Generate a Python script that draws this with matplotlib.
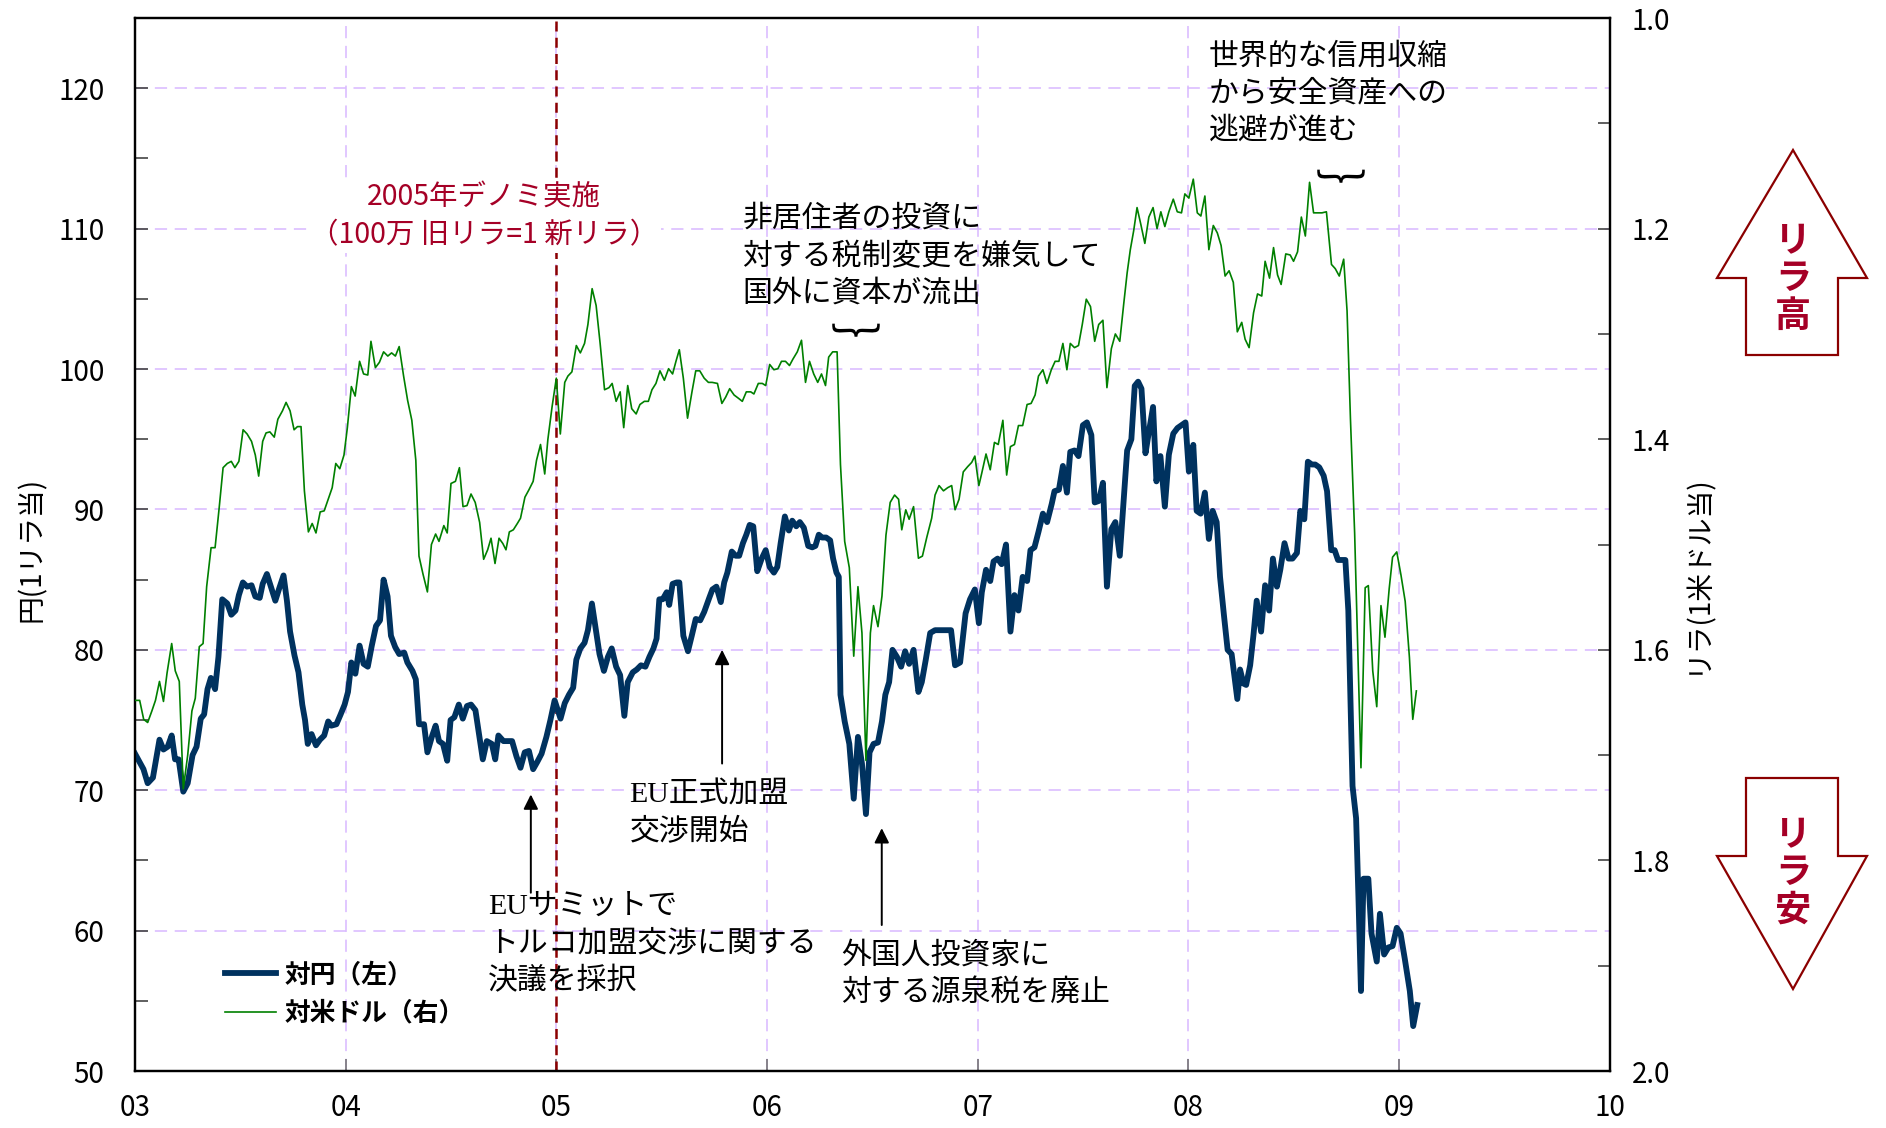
import matplotlib
matplotlib.use("Agg")
import matplotlib.pyplot as plt
from matplotlib.lines import Line2D
from matplotlib.patches import Polygon
from matplotlib.ticker import MultipleLocator

plt.rcParams['font.family'] = ['Noto Sans CJK JP', 'DejaVu Sans']

# 対円（左軸）: 時点（年）と値（円／1リラ）
jpy_t = [2003.000, 2003.040, 2003.060, 2003.085, 2003.116, 2003.135, 2003.155, 2003.174, 2003.190, 2003.207,
         2003.229, 2003.250, 2003.273, 2003.292, 2003.312, 2003.328, 2003.344, 2003.360, 2003.380, 2003.396,
         2003.414, 2003.438, 2003.457, 2003.477, 2003.493, 2003.512, 2003.532, 2003.553, 2003.571, 2003.592,
         2003.606, 2003.626, 2003.647, 2003.666, 2003.685, 2003.705, 2003.721, 2003.736, 2003.757, 2003.776,
         2003.794, 2003.807, 2003.820, 2003.838, 2003.859, 2003.878, 2003.898, 2003.917, 2003.932, 2003.956,
         2003.976, 2003.995, 2004.011, 2004.027, 2004.046, 2004.066, 2004.085, 2004.105, 2004.124, 2004.144,
         2004.163, 2004.180, 2004.199, 2004.215, 2004.235, 2004.254, 2004.278, 2004.293, 2004.317, 2004.333,
         2004.348, 2004.372, 2004.388, 2004.411, 2004.427, 2004.443, 2004.462, 2004.482, 2004.498, 2004.516,
         2004.537, 2004.556, 2004.576, 2004.595, 2004.616, 2004.631, 2004.651, 2004.670, 2004.694, 2004.710,
         2004.725, 2004.749, 2004.768, 2004.790, 2004.811, 2004.830, 2004.850, 2004.870, 2004.890, 2004.909,
         2004.930, 2004.953, 2004.972, 2004.992, 2005.020, 2005.040, 2005.060, 2005.080, 2005.095, 2005.114,
         2005.134, 2005.150, 2005.169, 2005.186, 2005.205, 2005.226, 2005.245, 2005.263, 2005.284, 2005.303,
         2005.323, 2005.339, 2005.363, 2005.382, 2005.402, 2005.423, 2005.442, 2005.461, 2005.476, 2005.489,
         2005.505, 2005.524, 2005.536, 2005.552, 2005.571, 2005.584, 2005.603, 2005.625, 2005.643, 2005.662,
         2005.683, 2005.702, 2005.726, 2005.741, 2005.760, 2005.781, 2005.797, 2005.812, 2005.833, 2005.852,
         2005.868, 2005.886, 2005.902, 2005.918, 2005.935, 2005.954, 2005.975, 2005.994, 2006.013, 2006.033,
         2006.049, 2006.065, 2006.085, 2006.104, 2006.120, 2006.139, 2006.156, 2006.175, 2006.196, 2006.215,
         2006.230, 2006.246, 2006.262, 2006.281, 2006.300, 2006.314, 2006.330, 2006.341, 2006.349, 2006.369,
         2006.391, 2006.412, 2006.432, 2006.451, 2006.470, 2006.487, 2006.506, 2006.527, 2006.546, 2006.562,
         2006.580, 2006.596, 2006.617, 2006.637, 2006.656, 2006.675, 2006.696, 2006.719, 2006.735, 2006.754,
         2006.775, 2006.798, 2006.822, 2006.846, 2006.874, 2006.893, 2006.917, 2006.943, 2006.964, 2006.987,
         2007.006, 2007.020, 2007.040, 2007.060, 2007.076, 2007.095, 2007.114, 2007.135, 2007.156, 2007.175,
         2007.194, 2007.214, 2007.235, 2007.251, 2007.270, 2007.289, 2007.310, 2007.330, 2007.352, 2007.365,
         2007.386, 2007.405, 2007.424, 2007.440, 2007.460, 2007.479, 2007.500, 2007.519, 2007.540, 2007.556,
         2007.575, 2007.595, 2007.614, 2007.635, 2007.654, 2007.675, 2007.690, 2007.710, 2007.730, 2007.746,
         2007.762, 2007.778, 2007.797, 2007.813, 2007.833, 2007.849, 2007.868, 2007.889, 2007.908, 2007.929,
         2007.949, 2007.968, 2007.987, 2008.003, 2008.024, 2008.040, 2008.059, 2008.079, 2008.098, 2008.116,
         2008.135, 2008.151, 2008.170, 2008.187, 2008.206, 2008.222, 2008.233, 2008.246, 2008.262, 2008.275,
         2008.294, 2008.310, 2008.325, 2008.346, 2008.365, 2008.384, 2008.402, 2008.421, 2008.437, 2008.457,
         2008.476, 2008.495, 2008.516, 2008.532, 2008.551, 2008.568, 2008.587, 2008.603, 2008.622, 2008.643,
         2008.659, 2008.679, 2008.695, 2008.711, 2008.730, 2008.746, 2008.760, 2008.770, 2008.780, 2008.797,
         2008.808, 2008.820, 2008.832, 2008.855, 2008.870, 2008.895, 2008.910, 2008.930, 2008.950, 2008.970,
         2008.990, 2009.008, 2009.028, 2009.052, 2009.068, 2009.087]
jpy_v = [72.6, 71.5, 70.5, 70.9, 73.6, 72.9, 73.1, 73.9, 72.2, 72.2,
         69.9, 70.5, 72.5, 73.1, 75.1, 75.4, 77.2, 78.0, 77.2, 79.5,
         83.6, 83.3, 82.5, 82.8, 83.9, 84.8, 84.5, 84.6, 83.8, 83.7,
         84.7, 85.4, 84.4, 83.5, 84.4, 85.3, 83.5, 81.3, 79.6, 78.4,
         76.1, 75.0, 73.3, 74.0, 73.2, 73.6, 73.9, 74.9, 74.6, 74.7,
         75.4, 76.1, 77.0, 79.1, 78.3, 80.3, 79.0, 78.8, 80.3, 81.7,
         82.1, 85.0, 83.8, 81.0, 80.2, 79.7, 79.8, 79.1, 78.5, 77.9,
         74.7, 74.7, 72.7, 73.9, 74.6, 73.5, 73.3, 72.1, 75.0, 75.2,
         76.1, 75.1, 76.0, 76.1, 75.7, 74.2, 72.2, 73.5, 73.3, 72.2,
         73.9, 73.5, 73.5, 73.5, 72.4, 71.6, 72.7, 72.8, 71.5, 72.0,
         72.6, 73.8, 75.0, 76.4, 75.1, 76.2, 76.8, 77.3, 79.3, 80.1,
         80.5, 81.4, 83.3, 81.6, 79.7, 78.5, 79.5, 80.1, 78.8, 78.2,
         75.3, 77.7, 78.4, 78.6, 78.9, 78.8, 79.5, 80.1, 80.8, 83.6,
         83.6, 84.1, 83.2, 84.7, 84.8, 84.8, 81.0, 79.9, 81.0, 82.2,
         82.1, 82.7, 83.7, 84.3, 84.5, 83.4, 84.8, 85.5, 87.0, 86.7,
         86.7, 87.6, 88.2, 88.9, 88.8, 85.6, 86.5, 87.1, 85.9, 85.5,
         85.9, 87.6, 89.5, 88.5, 89.2, 88.8, 89.1, 88.7, 87.4, 87.3,
         87.4, 88.2, 88.0, 88.0, 87.8, 86.5, 85.5, 85.2, 76.8, 74.9,
         73.3, 69.4, 73.8, 71.9, 68.3, 72.7, 73.3, 73.4, 74.9, 76.8,
         77.7, 80.0, 79.5, 78.8, 79.9, 79.0, 80.0, 77.0, 77.7, 79.3,
         81.2, 81.4, 81.4, 81.4, 81.4, 78.9, 79.1, 82.6, 83.6, 84.3,
         81.9, 84.1, 85.7, 84.9, 86.3, 86.5, 86.1, 87.5, 81.3, 83.9,
         82.8, 85.2, 84.9, 87.1, 87.3, 88.4, 89.7, 89.1, 90.4, 91.3,
         91.4, 93.1, 91.2, 94.1, 94.2, 93.8, 96.0, 96.2, 95.3, 90.5,
         90.6, 91.9, 84.5, 88.6, 89.1, 86.7, 89.9, 94.2, 95.0, 98.8,
         99.1, 98.6, 94.0, 95.5, 97.3, 92.0, 93.8, 90.2, 93.9, 95.4,
         95.8, 96.0, 96.2, 92.7, 94.6, 89.9, 89.7, 91.2, 87.9, 89.9,
         89.1, 85.2, 82.4, 80.0, 79.7, 77.8, 76.5, 78.6, 77.6, 77.5,
         78.9, 81.1, 83.5, 81.3, 84.6, 82.8, 86.5, 84.5, 85.7, 87.6,
         86.5, 86.5, 86.9, 89.9, 89.3, 93.4, 93.2, 93.2, 93.0, 92.4,
         91.3, 87.1, 87.1, 86.4, 86.4, 86.4, 82.8, 76.4, 70.3, 68.0,
         62.4, 55.7, 63.7, 63.7, 59.8, 57.8, 61.2, 58.3, 58.8, 58.9,
         60.2, 59.8, 58.0, 55.7, 53.2, 54.7]

# 対米ドル（右軸）: 時点（年）と値（リラ／1米ドル）
usd_t = [2003.000, 2003.022, 2003.041, 2003.060, 2003.080, 2003.097, 2003.116, 2003.135, 2003.152, 2003.174,
         2003.191, 2003.210, 2003.229, 2003.250, 2003.270, 2003.286, 2003.305, 2003.323, 2003.340, 2003.361,
         2003.380, 2003.399, 2003.418, 2003.438, 2003.457, 2003.474, 2003.493, 2003.513, 2003.532, 2003.553,
         2003.571, 2003.587, 2003.606, 2003.622, 2003.640, 2003.661, 2003.678, 2003.700, 2003.717, 2003.736,
         2003.755, 2003.771, 2003.788, 2003.804, 2003.823, 2003.841, 2003.859, 2003.879, 2003.898, 2003.917,
         2003.936, 2003.953, 2003.972, 2003.992, 2004.008, 2004.027, 2004.045, 2004.066, 2004.085, 2004.105,
         2004.120, 2004.141, 2004.160, 2004.180, 2004.200, 2004.218, 2004.236, 2004.254, 2004.275, 2004.294,
         2004.314, 2004.333, 2004.348, 2004.367, 2004.388, 2004.407, 2004.427, 2004.443, 2004.466, 2004.482,
         2004.500, 2004.521, 2004.540, 2004.557, 2004.576, 2004.595, 2004.615, 2004.636, 2004.655, 2004.674,
         2004.690, 2004.709, 2004.728, 2004.746, 2004.761, 2004.777, 2004.796, 2004.815, 2004.830, 2004.851,
         2004.870, 2004.890, 2004.906, 2004.925, 2004.945, 2004.960, 2004.980, 2005.000, 2005.019, 2005.040,
         2005.055, 2005.074, 2005.095, 2005.114, 2005.134, 2005.150, 2005.170, 2005.189, 2005.208, 2005.229,
         2005.250, 2005.265, 2005.284, 2005.303, 2005.320, 2005.339, 2005.358, 2005.379, 2005.397, 2005.418,
         2005.437, 2005.454, 2005.473, 2005.492, 2005.513, 2005.533, 2005.552, 2005.568, 2005.584, 2005.603,
         2005.623, 2005.644, 2005.662, 2005.681, 2005.702, 2005.722, 2005.740, 2005.765, 2005.786, 2005.804,
         2005.823, 2005.844, 2005.864, 2005.883, 2005.902, 2005.923, 2005.938, 2005.959, 2005.978, 2005.994,
         2006.013, 2006.033, 2006.052, 2006.069, 2006.088, 2006.107, 2006.123, 2006.144, 2006.164, 2006.183,
         2006.202, 2006.222, 2006.241, 2006.259, 2006.278, 2006.293, 2006.312, 2006.333, 2006.349, 2006.369,
         2006.391, 2006.412, 2006.432, 2006.451, 2006.470, 2006.491, 2006.506, 2006.527, 2006.546, 2006.565,
         2006.585, 2006.606, 2006.625, 2006.640, 2006.659, 2006.675, 2006.696, 2006.719, 2006.738, 2006.759,
         2006.782, 2006.798, 2006.817, 2006.838, 2006.858, 2006.877, 2006.893, 2006.912, 2006.932, 2006.953,
         2006.972, 2006.987, 2007.006, 2007.020, 2007.040, 2007.060, 2007.080, 2007.098, 2007.120, 2007.138,
         2007.156, 2007.175, 2007.194, 2007.214, 2007.235, 2007.254, 2007.273, 2007.289, 2007.310, 2007.329,
         2007.350, 2007.368, 2007.386, 2007.405, 2007.424, 2007.440, 2007.460, 2007.479, 2007.497, 2007.516,
         2007.536, 2007.556, 2007.575, 2007.595, 2007.614, 2007.635, 2007.654, 2007.675, 2007.694, 2007.710,
         2007.725, 2007.741, 2007.757, 2007.775, 2007.794, 2007.813, 2007.833, 2007.852, 2007.870, 2007.889,
         2007.908, 2007.929, 2007.948, 2007.968, 2007.984, 2008.003, 2008.024, 2008.043, 2008.060, 2008.079,
         2008.098, 2008.119, 2008.138, 2008.156, 2008.175, 2008.194, 2008.214, 2008.233, 2008.254, 2008.270,
         2008.289, 2008.310, 2008.329, 2008.349, 2008.365, 2008.386, 2008.405, 2008.424, 2008.441, 2008.463,
         2008.484, 2008.500, 2008.519, 2008.537, 2008.556, 2008.576, 2008.595, 2008.616, 2008.635, 2008.656,
         2008.680, 2008.698, 2008.717, 2008.738, 2008.754, 2008.770, 2008.790, 2008.820, 2008.840, 2008.855,
         2008.876, 2008.895, 2008.915, 2008.934, 2008.954, 2008.970, 2008.990, 2009.010, 2009.030, 2009.050,
         2009.066, 2009.083]
usd_v = [1.648, 1.648, 1.666, 1.669, 1.658, 1.648, 1.630, 1.649, 1.622, 1.594,
         1.620, 1.630, 1.732, 1.700, 1.658, 1.646, 1.597, 1.594, 1.540, 1.503,
         1.503, 1.466, 1.427, 1.423, 1.421, 1.427, 1.421, 1.391, 1.395, 1.402,
         1.415, 1.435, 1.402, 1.394, 1.393, 1.398, 1.381, 1.373, 1.365, 1.373,
         1.391, 1.388, 1.388, 1.449, 1.488, 1.480, 1.489, 1.469, 1.468, 1.457,
         1.446, 1.423, 1.428, 1.415, 1.389, 1.350, 1.359, 1.326, 1.338, 1.339,
         1.307, 1.332, 1.327, 1.317, 1.321, 1.318, 1.321, 1.312, 1.340, 1.363,
         1.382, 1.420, 1.511, 1.528, 1.545, 1.500, 1.490, 1.497, 1.482, 1.489,
         1.442, 1.440, 1.427, 1.464, 1.463, 1.452, 1.460, 1.479, 1.514, 1.505,
         1.494, 1.518, 1.494, 1.499, 1.505, 1.488, 1.486, 1.480, 1.475, 1.455,
         1.448, 1.440, 1.420, 1.405, 1.433, 1.400, 1.369, 1.342, 1.395, 1.346,
         1.340, 1.336, 1.311, 1.318, 1.309, 1.291, 1.257, 1.273, 1.309, 1.353,
         1.351, 1.347, 1.364, 1.355, 1.389, 1.349, 1.371, 1.376, 1.367, 1.364,
         1.364, 1.353, 1.347, 1.335, 1.344, 1.333, 1.338, 1.326, 1.315, 1.342,
         1.380, 1.355, 1.335, 1.335, 1.342, 1.346, 1.346, 1.347, 1.366, 1.360,
         1.352, 1.358, 1.361, 1.364, 1.355, 1.355, 1.357, 1.347, 1.347, 1.349,
         1.329, 1.334, 1.333, 1.326, 1.326, 1.330, 1.324, 1.317, 1.306, 1.346,
         1.326, 1.338, 1.346, 1.338, 1.349, 1.322, 1.317, 1.317, 1.424, 1.497,
         1.522, 1.606, 1.540, 1.584, 1.705, 1.584, 1.558, 1.578, 1.549, 1.491,
         1.460, 1.453, 1.457, 1.486, 1.467, 1.476, 1.464, 1.513, 1.511, 1.493,
         1.475, 1.453, 1.444, 1.449, 1.446, 1.444, 1.467, 1.457, 1.431, 1.426,
         1.422, 1.416, 1.444, 1.432, 1.414, 1.429, 1.403, 1.405, 1.382, 1.434,
         1.407, 1.405, 1.387, 1.387, 1.367, 1.366, 1.358, 1.340, 1.334, 1.347,
         1.334, 1.326, 1.326, 1.309, 1.334, 1.309, 1.313, 1.311, 1.291, 1.267,
         1.274, 1.307, 1.291, 1.287, 1.351, 1.314, 1.300, 1.307, 1.271, 1.242,
         1.220, 1.202, 1.180, 1.196, 1.214, 1.189, 1.180, 1.200, 1.184, 1.198,
         1.184, 1.172, 1.184, 1.185, 1.167, 1.171, 1.153, 1.185, 1.188, 1.169,
         1.220, 1.197, 1.204, 1.216, 1.245, 1.240, 1.251, 1.298, 1.289, 1.305,
         1.313, 1.280, 1.262, 1.264, 1.231, 1.247, 1.218, 1.244, 1.253, 1.224,
         1.225, 1.231, 1.222, 1.189, 1.207, 1.156, 1.185, 1.185, 1.185, 1.184,
         1.234, 1.238, 1.245, 1.229, 1.278, 1.380, 1.489, 1.712, 1.541, 1.539,
         1.620, 1.654, 1.558, 1.588, 1.542, 1.512, 1.507, 1.529, 1.554, 1.607,
         1.666, 1.639]

year_ticks = [2003, 2004, 2005, 2006, 2007, 2008, 2009, 2010]
year_labels = ['03', '04', '05', '06', '07', '08', '09', '10']
left_ticks = [50, 60, 70, 80, 90, 100, 110, 120]
right_ticks = [1.0, 1.2, 1.4, 1.6, 1.8, 2.0]

navy = '#00325F'
green = '#008000'
grid_c = '#D9B8FF'
crimson = '#A50026'
dark_red = '#8B0000'
note_font = ['Liberation Serif', 'Noto Sans CJK JP']

fig = plt.figure(figsize=(18.86, 11.28), dpi=100)
ax = fig.add_axes([0.0716, 0.0505, 0.7818, 0.9335])
ax.set_xlim(2003, 2010)
ax.set_ylim(50, 125)
ax.set_xticks(year_ticks)
ax.set_xticklabels(year_labels)
ax.set_yticks(left_ticks)
ax.yaxis.set_minor_locator(MultipleLocator(5))
ax.grid(True, which='major', color=grid_c, linestyle=(0, (8, 5)), linewidth=1.1)
ax.tick_params(axis='y', which='both', direction='in', length=9, width=1.2, color='#444444',
               labelsize=20, pad=22)
ax.tick_params(axis='x', direction='in', length=9, width=1.2, color='#777777', labelsize=20, pad=16)
for s in ax.spines.values():
    s.set_linewidth(1.6)

# 2005年デノミ
ax.axvline(2005, color=dark_red, linestyle=(0, (4, 2.5)), linewidth=1.8, zorder=2)

ax.plot(jpy_t, jpy_v, color=navy, linewidth=4.2, solid_joinstyle='round', zorder=3)

ax2 = ax.twinx()
ax2.set_ylim(2.0, 1.0)
ax2.set_yticks(right_ticks)
ax2.set_yticklabels(['%.1f' % v for v in right_ticks])
ax2.yaxis.set_minor_locator(MultipleLocator(0.1))
ax2.tick_params(axis='y', which='both', direction='in', length=9, width=1.2, color='#444444',
                labelsize=20, pad=16)
for s in ax2.spines.values():
    s.set_linewidth(1.6)
ax2.plot(usd_t, usd_v, color=green, linewidth=1.2, zorder=4)

fig.text(0.017, 0.513, '円(1リラ当)', rotation=90, ha='center', va='center', fontsize=20)
fig.text(0.9, 0.491, 'リラ(1米ドル当)', rotation=90, ha='center', va='center', fontsize=20)

# 注記
ax.text(2004.657, 110.9, '2005年デノミ実施\n（100万 旧リラ=1 新リラ）', ha='center', va='center',
        color=crimson, fontsize=20.5, linespacing=1.35,
        bbox=dict(facecolor='white', edgecolor='none', pad=2), zorder=5)
ax.text(2005.884, 108.0, '非居住者の投資に\n対する税制変更を嫌気して\n国外に資本が流出',
        ha='left', va='center', fontsize=21.5, linespacing=1.43, family=note_font)
ax.text(2006.422, 101.2, '︸', ha='center', va='center', fontsize=36)
ax.text(2008.098, 119.6, '世界的な信用収縮\nから安全資産への\n逃避が進む',
        ha='left', va='center', fontsize=21.5, linespacing=1.43, family=note_font)
ax.text(2008.726, 112.2, '︸', ha='center', va='center', fontsize=36)
ax.text(2005.347, 68.3, 'EU正式加盟\n交渉開始', ha='left', va='center', fontsize=21.5,
        linespacing=1.43, family=note_font)
ax.text(2004.675, 59.0, 'EUサミットで\nトルコ加盟交渉に関する\n決議を採択', ha='left', va='center',
        fontsize=21.5, linespacing=1.43, family=note_font)
ax.text(2006.351, 56.9, '外国人投資家に\n対する源泉税を廃止', ha='left', va='center',
        fontsize=21.5, linespacing=1.43, family=note_font)

arrow_kw = dict(arrowstyle='-|>', color='black', lw=1.4, mutation_scale=22, shrinkA=0, shrinkB=0)
ax.annotate('', xy=(2005.787, 80.0), xytext=(2005.787, 71.9), arrowprops=arrow_kw)
ax.annotate('', xy=(2004.879, 69.7), xytext=(2004.879, 62.7), arrowprops=arrow_kw)
ax.annotate('', xy=(2006.545, 67.3), xytext=(2006.545, 60.4), arrowprops=arrow_kw)

handles = [Line2D([], [], color=navy, linewidth=4.2), Line2D([], [], color=green, linewidth=1.2)]
ax2.legend(handles, ['対円（左）', '対米ドル（右）'], loc='lower left', bbox_to_anchor=(0.052, 0.03),
           frameon=False, handlelength=2.0, handletextpad=0.35, labelspacing=0.45, borderpad=0,
           prop={'size': 18.5, 'weight': 'bold'})

# リラ高・リラ安の矢印
W, H = 1886.0, 1128.0
up_px = [(1793, 150), (1867, 278), (1838, 278), (1838, 355), (1746, 355), (1746, 278), (1717, 278)]
down_px = [(1746, 778), (1838, 778), (1838, 856), (1867, 856), (1793, 989), (1717, 856), (1746, 856)]
for pts in (up_px, down_px):
    poly = Polygon([(x / W, 1 - y / H) for x, y in pts], closed=True, facecolor='white',
                   edgecolor=dark_red, linewidth=1.6, transform=fig.transFigure)
    fig.add_artist(poly)
fig.text(1793 / W, 1 - 279 / H, 'リ\nラ\n高', ha='center', va='center', color=crimson,
         fontsize=26, fontweight='bold', linespacing=1.0)
fig.text(1793 / W, 1 - 873 / H, 'リ\nラ\n安', ha='center', va='center', color=crimson,
         fontsize=26, fontweight='bold', linespacing=1.0)

fig.savefig('out.png', dpi=100)
